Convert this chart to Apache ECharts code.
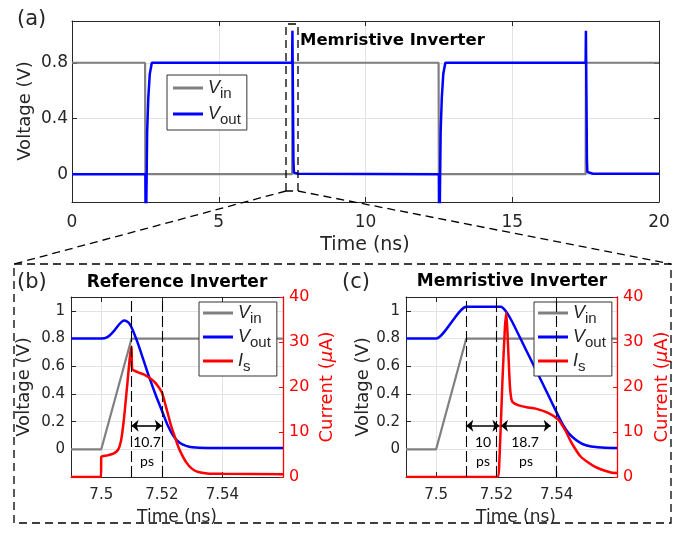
<!DOCTYPE html>
<html>
<head>
<meta charset="utf-8">
<script src="https://cdn.jsdelivr.net/npm/echarts@6/dist/echarts.min.js"></script>
<style>
html,body{margin:0;padding:0;background:#fff;}
#c{width:687px;height:533px;}
</style>
</head>
<body>
<div id="c"></div>
<script>
// ---------- DATA ----------
// Panel (a): full transient, time in ns
const aVinT = [0, 2.49, 2.5, 7.5, 7.51, 12.49, 12.5, 17.5, 17.51, 20];
const aVinV = [0.8, 0.8, 0, 0, 0.8, 0.8, 0, 0, 0.8, 0.8];
const aVoutT = [0, 2.5, 2.51, 2.525, 2.56, 2.6, 2.65, 2.72, 7.5, 7.51, 7.522, 7.545, 7.56, 7.7, 12.5, 12.51, 12.525, 12.56, 12.6, 12.65, 12.72, 17.5, 17.51, 17.522, 17.545, 17.56, 17.75, 20];
const aVoutV = [0, 0, -0.45, -0.35, 0.3, 0.55, 0.72, 0.8, 0.8, 1.03, 1.03, 0.1, 0.01, 0.003, 0, -0.45, -0.35, 0.3, 0.55, 0.72, 0.8, 0.8, 1.03, 1.03, 0.1, 0.015, 0.003, 0.003];
const aYTicks = [0, 0.4, 0.8];

// Panel (b): Reference inverter (zoom)
const bVinT = [7.49, 7.5, 7.51, 7.56];
const bVinV = [0, 0, 0.8, 0.8];
const bVoutT = [7.49, 7.5, 7.502, 7.504, 7.506, 7.5075, 7.509, 7.51, 7.512, 7.514, 7.516, 7.518, 7.52, 7.522, 7.524, 7.526, 7.528, 7.53, 7.535, 7.56];
const bVoutV = [0.8, 0.8, 0.81, 0.85, 0.905, 0.93, 0.915, 0.88, 0.77, 0.64, 0.51, 0.39, 0.28, 0.17, 0.09, 0.045, 0.025, 0.015, 0.01, 0.01];
const bIsT = [7.49, 7.4999, 7.5, 7.502, 7.504, 7.5055, 7.5065, 7.5075, 7.5085, 7.5095, 7.51, 7.5102, 7.512, 7.514, 7.516, 7.518, 7.52, 7.521, 7.522, 7.523, 7.524, 7.525, 7.526, 7.528, 7.53, 7.532, 7.535, 7.54, 7.56];
const bIsV = [0, 0, 4.5, 4.8, 5.2, 6, 8, 13, 20, 27, 29, 24, 23.3, 22.8, 22, 20.8, 18.8, 16.5, 14, 11.5, 9.5, 7.5, 5.8, 3.3, 1.8, 1.1, 0.8, 0.7, 0.6];
const bMarkT = [7.51, 7.52];
const bArrows = [[7.51, 7.52]];

// Panel (c): Memristive inverter (zoom)
const cVinT = [7.49, 7.5, 7.51, 7.56];
const cVinV = [0, 0, 0.8, 0.8];
const cVoutT = [7.49, 7.5, 7.51, 7.5215, 7.523, 7.525, 7.53, 7.535, 7.54, 7.542, 7.544, 7.546, 7.548, 7.55, 7.553, 7.556, 7.56];
const cVoutV = [0.8, 0.8, 1.03, 1.03, 1.0, 0.93, 0.71, 0.49, 0.265, 0.18, 0.115, 0.075, 0.045, 0.028, 0.016, 0.012, 0.01];
const cIsT = [7.49, 7.5203, 7.5209, 7.522, 7.5228, 7.5233, 7.5238, 7.5245, 7.5252, 7.5274, 7.53, 7.533, 7.5373, 7.5406, 7.5428, 7.545, 7.548, 7.5526, 7.558, 7.56];
const cIsV = [0, 0, 2.3, 21.5, 33, 36.5, 30, 20, 16.8, 15.9, 15.5, 15.2, 14.2, 12.7, 10.4, 7.5, 4.5, 2.3, 1.0, 0.9];
const cMarkT = [7.51, 7.521, 7.538];
const cArrows = [[7.51, 7.521], [7.5215, 7.538]];

const zoomXTicks = [7.5, 7.52, 7.54];
const zoomYTicks = [0, 0.2, 0.4, 0.6, 0.8, 1];
const arrowY = 0.17;

// ---------- HELPERS ----------
const zip = (t, v) => t.map((x, i) => [x, v[i]]);
const TXT = '#262626';
const FONT = '"DejaVu Sans", sans-serif';
const LFONT = '"Liberation Sans", Arial, sans-serif';
const GRIDC = '#e3e3e3';

function tick(custom) {
  const t = {show: true, inside: true, length: 5, lineStyle: {color: TXT}};
  if (custom) t.customValues = custom;
  return t;
}
function lbl(size, margin, custom, color) {
  const l = {color: color || TXT, fontSize: size, fontFamily: FONT, margin: margin};
  if (custom) l.customValues = custom;
  return l;
}
const axLine = {show: true, onZero: false, lineStyle: {color: TXT, width: 1}};

function line(name, x, y, data, color, width, extra) {
  return Object.assign({
    name: name, type: 'line', xAxisIndex: x, yAxisIndex: y, data: data,
    showSymbol: false, symbol: 'none', animation: false, clip: true,
    lineStyle: {color: color, width: width}, itemStyle: {color: color}
  }, extra || {});
}
function vmarks(vlines) {
  return {silent: true, symbol: ['none', 'none'], label: {show: false}, animation: false,
    lineStyle: {type: [11, 4], color: '#000', width: 1.1},
    data: vlines.map(t => ({xAxis: t}))};
}
function amarks(arrows) {
  return {silent: true, symbol: ['arrow', 'arrow'], symbolSize: [9, 7], label: {show: false}, animation: false,
    lineStyle: {type: 'solid', color: '#000', width: 1.6},
    data: arrows.map(a => [{coord: [a[0], arrowY]}, {coord: [a[1], arrowY]}])};
}
const legendRich = {
  v: {fontStyle: 'italic', fontSize: 18, fontFamily: LFONT, color: TXT, lineHeight: 26, verticalAlign: 'middle'},
  s: {fontSize: 15, fontFamily: LFONT, color: TXT, lineHeight: 15, verticalAlign: 'bottom'}
};
const legendFmt = n => n === 'Vin' ? '{v|V}{s|in}' : n === 'Vout' ? '{v|V}{s|out}' : '{v|I}{s|s}';
function legend(left, top, names, pad, gap) {
  return {
    left: left, top: top, orient: 'vertical', data: names.map(n => ({name: n, icon: 'rect'})), selectedMode: false,
    itemWidth: 30, itemHeight: 3, itemGap: gap, padding: pad,
    backgroundColor: '#fff', borderColor: '#333', borderWidth: 1,
    formatter: legendFmt, textStyle: {rich: legendRich}
  };
}
function gtext(x, y, text, opt) {
  return {type: 'text', x: x, y: y, z: 100, rotation: (opt && opt.rot) || 0,
    style: Object.assign({text: text, fill: TXT, font: '18px ' + FONT, align: 'center', verticalAlign: 'middle'}, (opt && opt.style) || {})};
}
function dashed(points) {
  return {type: 'polyline', z: 100, shape: {points: points}, style: {stroke: '#000', lineWidth: 1.3, lineDash: [8, 5], fill: null}};
}
const curLbl = (x, y) => gtext(x, y, '', {rot: Math.PI / 2, style: {
  text: '{n|Current (}{m|μ}{n|A)}', fill: '#f00',
  rich: {n: {fontSize: 18, fontFamily: FONT, fill: '#f00'}, m: {fontSize: 18, fontFamily: FONT, fontStyle: 'italic', fill: '#f00'}}}});
const ann = (x, y, t) => gtext(x, y, t, {style: {font: '14px Lato, sans-serif', fill: '#000'}});

function zoomX(grid, top) {
  return {type: 'value', gridIndex: grid, min: 7.49, max: 7.56, position: top ? 'top' : 'bottom',
    axisLine: axLine, axisTick: tick(zoomXTicks),
    axisLabel: top ? {show: false} : lbl(15, 11, zoomXTicks),
    splitLine: {show: !top, lineStyle: {color: GRIDC, width: 1}}};
}
function voltY(grid, ticks, size, margin) {
  return {type: 'value', gridIndex: grid, min: -0.2, max: 1.1, position: 'left',
    axisLine: axLine, axisTick: tick(ticks), axisLabel: lbl(size, margin, ticks),
    splitLine: {show: true, lineStyle: {color: GRIDC, width: 1}}};
}
function curY(grid) {
  return {type: 'value', gridIndex: grid, min: 0, max: 40, interval: 10, position: 'right',
    axisLine: {show: true, onZero: false, lineStyle: {color: '#f00', width: 1.3}},
    axisTick: {show: true, inside: true, length: 4, lineStyle: {color: '#f00'}},
    axisLabel: lbl(16, 6, null, '#f00'), splitLine: {show: false}};
}

// ---------- CHART ----------
const chart = echarts.init(document.getElementById('c'), null, {renderer: 'canvas'});
chart.setOption({
  backgroundColor: '#fff',
  animation: false,
  grid: [
    {left: 72, top: 21, width: 587, height: 181, containLabel: false},
    {left: 71, top: 297, width: 212, height: 180, containLabel: false},
    {left: 406, top: 297, width: 211, height: 180, containLabel: false}
  ],
  xAxis: [
    {type: 'value', gridIndex: 0, min: 0, max: 20, interval: 5, position: 'bottom',
      axisLine: axLine, axisTick: tick(), axisLabel: lbl(17, 12),
      splitLine: {show: true, lineStyle: {color: GRIDC, width: 1}}},
    {type: 'value', gridIndex: 0, min: 0, max: 20, interval: 5, position: 'top',
      axisLine: axLine, axisTick: tick(), axisLabel: {show: false}, splitLine: {show: false}},
    zoomX(1, false), zoomX(1, true),
    zoomX(2, false), zoomX(2, true)
  ],
  yAxis: [
    voltY(0, aYTicks, 17, 4),
    {type: 'value', gridIndex: 0, min: -0.2, max: 1.1, position: 'right',
      axisLine: axLine, axisTick: tick(aYTicks), axisLabel: {show: false}, splitLine: {show: false}},
    voltY(1, zoomYTicks, 15, 6),
    curY(1),
    voltY(2, zoomYTicks, 15, 6),
    curY(2)
  ],
  legend: [
    legend(167, 75, ['Vin', 'Vout'], [4, 6, 3, 6], 4),
    legend(199, 302, ['Vin', 'Vout', 'Is'], [2, 6, 2, 4], 2),
    legend(534, 302, ['Vin', 'Vout', 'Is'], [2, 6, 2, 4], 2)
  ],
  series: [
    line('Vin', 0, 0, zip(aVinT, aVinV), '#808080', 2.2),
    line('Vout', 0, 0, zip(aVoutT, aVoutV), '#0000ff', 2.5),
    line('Vin', 2, 2, zip(bVinT, bVinV), '#808080', 2.2),
    line('Vout', 2, 2, zip(bVoutT, bVoutV), '#0000ff', 2.5, {smooth: 0.25}),
    line('Is', 2, 3, zip(bIsT, bIsV), '#ff0000', 2.5, {smooth: 0.2, markLine: vmarks(bMarkT)}),
    line('Vin', 4, 4, zip(cVinT, cVinV), '#808080', 2.2),
    line('Vout', 4, 4, zip(cVoutT, cVoutV), '#0000ff', 2.5, {smooth: 0.2}),
    line('Is', 4, 5, zip(cIsT, cIsV), '#ff0000', 2.5, {smooth: 0.2, markLine: vmarks(cMarkT)}),
    line('arrows', 2, 2, [], '#000', 1, {markLine: amarks(bArrows), z: 5}),
    line('arrows', 4, 4, [], '#000', 1, {markLine: amarks(cArrows), z: 5})
  ],
  graphic: [
    gtext(17, 20, '(a)', {style: {font: '21px ' + FONT, align: 'left'}}),
    gtext(300, 41, 'Memristive Inverter', {style: {font: 'bold 16.5px ' + FONT, align: 'left', fill: '#000'}}),
    gtext(25, 111, 'Voltage (V)', {rot: Math.PI / 2}),
    gtext(365, 245, 'Time (ns)', {style: {font: '19px ' + FONT}}),
    gtext(17, 283, '(b)', {style: {font: '21px ' + FONT, align: 'left'}}),
    gtext(177, 283, 'Reference Inverter', {style: {font: 'bold 17px ' + FONT, fill: '#000'}}),
    gtext(24, 387, 'Voltage (V)', {rot: Math.PI / 2}),
    gtext(177, 518, 'Time (ns)', {style: {font: '17px ' + FONT}}),
    curLbl(327, 387),
    gtext(342, 283, '(c)', {style: {font: '21px ' + FONT, align: 'left'}}),
    gtext(512, 282, 'Memristive Inverter', {style: {font: 'bold 17px ' + FONT, fill: '#000'}}),
    gtext(363, 387, 'Voltage (V)', {rot: Math.PI / 2}),
    gtext(516, 518, 'Time (ns)', {style: {font: '17px ' + FONT}}),
    curLbl(662, 387),
    ann(147, 442, '10.7'), ann(147, 461, 'ps'),
    ann(483, 442, '10'), ann(483, 461, 'ps'),
    ann(525, 442, '18.7'), ann(526, 461, 'ps'),
    dashed([[286, 191], [286, 24], [298, 24], [298, 191], [286, 191]]),
    dashed([[286, 191], [14, 264]]),
    dashed([[298, 191], [671, 264]]),
    dashed([[14, 264], [671, 264], [671, 523], [14, 523], [14, 264]])
  ]
});
</script>
</body>
</html>
